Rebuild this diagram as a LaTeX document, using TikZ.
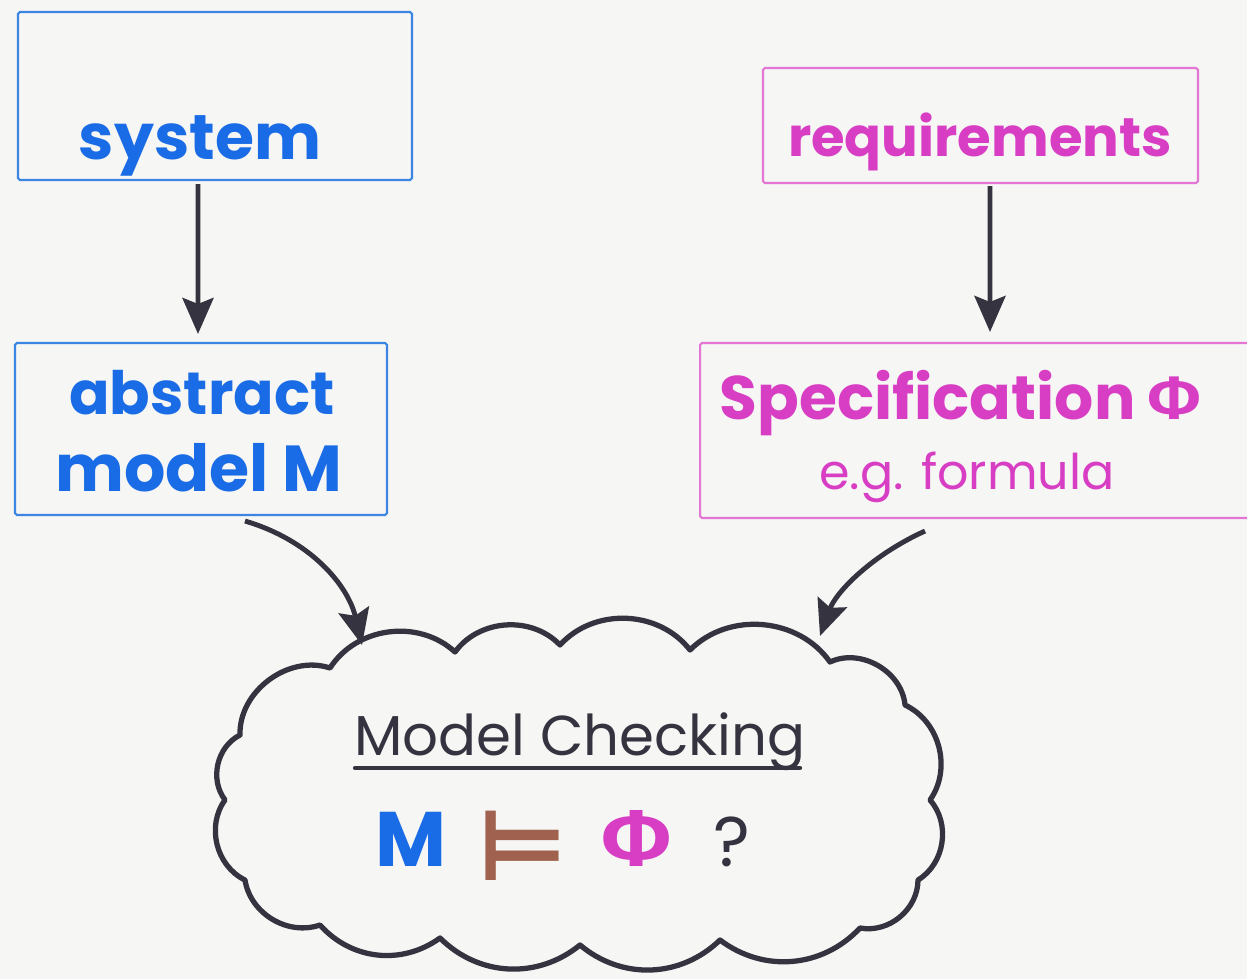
\documentclass[tikz,border=0pt]{standalone}
\usepackage{fontspec}
\setmainfont{Poppins}
\newfontfamily\greekfont{Fira Sans}
\newfontfamily\symbolfont{DejaVu Sans}
\usetikzlibrary{arrows.meta}

\definecolor{paper}{HTML}{F6F6F4}
\definecolor{sysblue}{HTML}{1A6CE6}
\definecolor{boxblue}{HTML}{3C86E2}
\definecolor{reqmag}{HTML}{D83EC4}
\definecolor{boxmag}{HTML}{E476D6}
\definecolor{ink}{HTML}{34333F}
\definecolor{brownink}{HTML}{A0624E}

\tikzset{
  bluebox/.style={draw=boxblue, line width=1.2pt, rounded corners=1pt, inner sep=0pt},
  magbox/.style={draw=boxmag, line width=1.2pt, rounded corners=1pt, inner sep=0pt},
  flowarrow/.style={draw=ink, line width=2.8pt,
    -{Stealth[length=0.72cm, width=0.62cm, inset=0.12cm]}},
  cloudline/.style={draw=ink, line width=3pt, line join=round, line cap=round},
  lbl/.style={inner sep=0pt, anchor=base},
}

\begin{document}
\begin{tikzpicture}[x=0.02cm, y=-0.02cm]
  \fill[paper] (0,0) rectangle (1247,979);
  \useasboundingbox (0,0) rectangle (1247,979);

  % frames
  \node[bluebox, minimum width=7.88cm, minimum height=3.36cm] (sys) at (215,96) {};
  \node[magbox,  minimum width=8.70cm, minimum height=2.30cm] (req) at (980.5,125.5) {};
  \node[bluebox, minimum width=7.44cm, minimum height=3.44cm] (abs) at (201,429) {};
  \node[magbox,  minimum width=11.0cm, minimum height=3.50cm] (spec) at (975,430.5) {};

  % frame texts
  \node[lbl, text=sysblue, font=\fontsize{36}{42}\selectfont\bfseries] (systxt) at (200,160) {system};
  \node[lbl, text=reqmag, font=\fontsize{31}{36}\selectfont\bfseries] (reqtxt) at (980,157) {requirements};
  \node[lbl, text=sysblue, font=\fontsize{34}{40}\selectfont\bfseries] (abstxt) at (202,415) {abstract};
  \node[lbl, text=sysblue, font=\fontsize{37}{40}\selectfont\bfseries] (modtxt) at (199,492) {model M};
  \node[lbl, text=reqmag, font=\fontsize{35}{40}\selectfont\bfseries] (spectxt) at (960,420)
    {Specification {\greekfont\bfseries Φ}};
  \node[lbl, text=reqmag, font=\fontsize{28}{32}\selectfont] (egtxt) at (967,490) {e.g. formula};

  % straight arrows
  \draw[flowarrow] ([xshift=-0.34cm, yshift=-0.06cm]sys.south) -- ([xshift=-0.06cm, yshift=0.16cm]abs.north);
  \draw[flowarrow] ([xshift=0.19cm, yshift=-0.04cm]req.south) -- ([xshift=0.30cm, yshift=0.20cm]spec.north);

  % cloud
  \coordinate (c1)  at (240,735);
  \coordinate (c2)  at (330,668);
  \coordinate (c3)  at (455,652);
  \coordinate (c4)  at (560,645);
  \coordinate (c5)  at (690,650);
  \coordinate (c6)  at (830,662);
  \coordinate (c7)  at (905,705);
  \coordinate (c8)  at (930,800);
  \coordinate (c9)  at (918,880);
  \coordinate (c10) at (860,928);
  \coordinate (c11) at (720,940);
  \coordinate (c12) at (580,945);
  \coordinate (c13) at (440,938);
  \coordinate (c14) at (320,925);
  \coordinate (c15) at (245,880);
  \coordinate (c16) at (225,800);
  \draw[cloudline] (c1) to[bend left=55] (c2) to[bend left=50] (c3) to[bend left=50] (c4)
    to[bend left=50] (c5) to[bend left=50] (c6) to[bend left=55] (c7) to[bend left=50] (c8)
    to[bend left=50] (c9) to[bend left=50] (c10) to[bend left=42] (c11) to[bend left=42] (c12)
    to[bend left=42] (c13) to[bend left=42] (c14) to[bend left=50] (c15) to[bend left=50] (c16)
    to[bend left=50] (c1);

  % curved arrows into the cloud
  \coordinate (inL) at (362,645);
  \coordinate (inR) at (820,636);
  \draw[flowarrow] ([xshift=0.88cm, yshift=-0.1cm]abs.south) .. controls (310,540) and (348,585) .. (inL);
  \draw[flowarrow] ([xshift=-1.0cm, yshift=-0.24cm]spec.south) .. controls (872,555) and (836,592) .. (inR);

  % cloud contents
  \node[lbl, text=ink, font=\fontsize{32}{40}\selectfont] (mc) at (580,755) {Model Checking};
  \coordinate (ulL) at (355,768);
  \coordinate (ulR) at (800,768);
  \draw[ink, line width=2.4pt, line cap=round] (ulL) -- (ulR);
  \node[lbl, text=sysblue, font=\fontsize{44}{50}\selectfont\bfseries] (qm) at (411,866) {M};
  \node[lbl, text=brownink, font=\fontsize{56}{60}\selectfont\symbolfont\bfseries] (qs) at (522,880) {⊨};
  \node[lbl, text=reqmag, font=\fontsize{46}{50}\selectfont\greekfont\bfseries] (qp) at (637,866) {Φ};
  \node[lbl, text=ink, font=\fontsize{40}{44}\selectfont] (qq) at (732,866) {?};
\end{tikzpicture}
\end{document}
